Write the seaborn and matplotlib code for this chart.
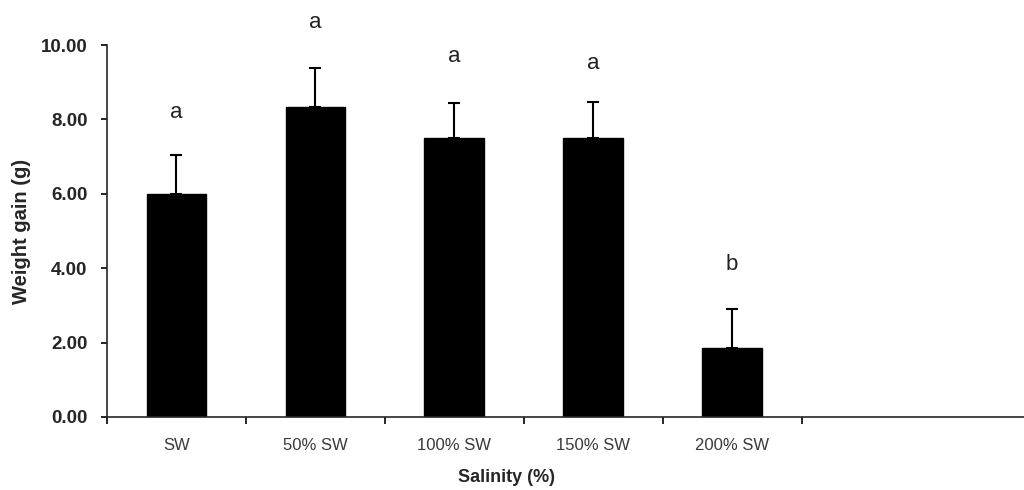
import pandas as pd
import matplotlib.pyplot as plt
import seaborn as sns

# ================= 数据 =================
salinity = ['SW', '50% SW', '100% SW', '150% SW', '200% SW']
weight_gain = [6.00, 8.33, 7.50, 7.50, 1.85]
weight_err = [1.05, 1.05, 0.93, 0.97, 1.05]
letters = ['a', 'a', 'a', 'a', 'b']
letter_y = [8.2, 10.6, 9.7, 9.5, 4.1]

df = pd.DataFrame({'Salinity': salinity, 'Gain': weight_gain})

# ================= 样式 =================
sns.set_theme(style='ticks')
plt.rcParams['font.family'] = ['Liberation Sans', 'DejaVu Sans']

fig = plt.figure(figsize=(10.24, 4.9), dpi=100)
ax = fig.add_axes([0.1045, 0.149, 0.8955, 0.759])

sns.barplot(data=df, x='Salinity', y='Gain', color='black', width=0.43,
            errorbar=None, saturation=1, edgecolor='black', ax=ax, zorder=2)

# 只画向上的误差线
xs = list(range(len(salinity)))
ax.errorbar(xs, weight_gain, yerr=[[0] * len(xs), weight_err], fmt='none',
            ecolor='black', elinewidth=1.5, capsize=4, capthick=1.5, zorder=1)

for x, y, t in zip(xs, letter_y, letters):
    ax.text(x, y, t, ha='center', va='center', fontsize=16, color='#222222')

ax.set_xlim(-0.5, 6.1)
ax.set_ylim(0, 10)
ax.set_yticks([0, 2, 4, 6, 8, 10])
ax.set_yticklabels([f'{v:.2f}' for v in [0, 2, 4, 6, 8, 10]],
                   fontsize=13.5, fontweight='bold')

# 分类标签在柱中心，刻度在分界处
ax.set_xticks(xs)
ax.set_xticklabels(salinity, fontsize=12, color='#3a3a3a')
ax.tick_params(axis='x', length=0, pad=15)
ax.set_xticks([i - 0.5 for i in range(len(salinity) + 1)], minor=True)
ax.tick_params(axis='x', which='minor', length=5, width=1.2, color='black')
ax.tick_params(axis='y', length=4, width=1.2, color='black', pad=10)

ax.set_xlabel('Salinity (%)', fontsize=13, fontweight='bold')
ax.xaxis.set_label_coords(0.436, -0.14)
ax.set_ylabel('Weight gain (g)', fontsize=14.5, fontweight='bold', labelpad=7)

sns.despine(ax=ax)
ax.spines['left'].set_linewidth(1.2)
ax.spines['bottom'].set_linewidth(1.2)

fig.savefig('out.png', dpi=100)
